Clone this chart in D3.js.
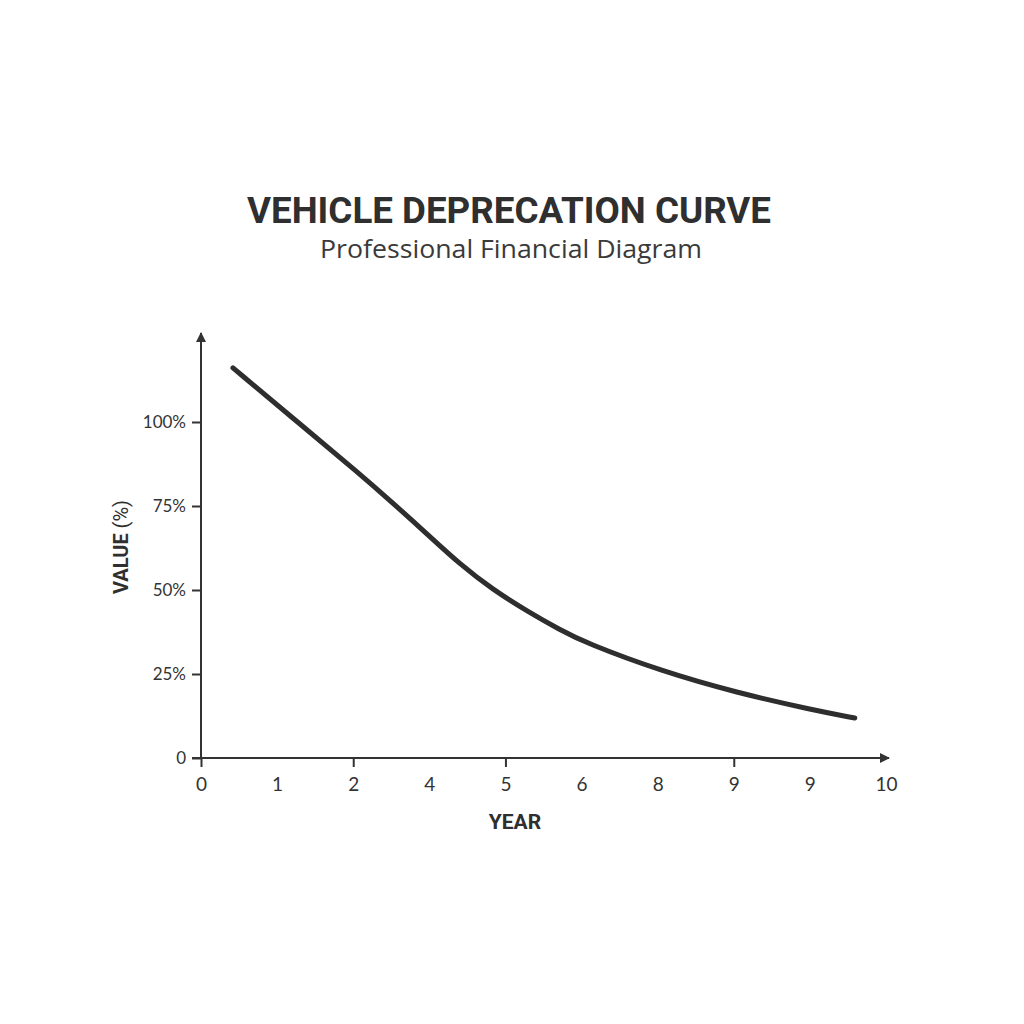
<!DOCTYPE html>
<html>
<head>
<meta charset="utf-8">
<script src="https://cdn.jsdelivr.net/npm/d3@7"></script>
<style>
  body { margin: 0; background: #fff; }
</style>
</head>
<body>
<div id="chart"></div>
<script>
// x tick labels as printed on the chart (one per slot)
var yearLabels = ["0", "1", "2", "4", "5", "6", "8", "9", "9", "10"];
// slots that carry a tick mark
var tickMarkSlots = [0, 2, 4, 7];
var valueTicks = [0, 25, 50, 75, 100];
// curve samples: slot position and value in %
var curveX = [0.42, 1.30, 2.09, 2.52, 2.97, 3.40, 3.84, 4.28, 4.72, 5.06, 6.04, 7.04, 8.04, 8.59];
var curveY = [116.1, 99.4, 84.5, 75.9, 66.7, 57.7, 50.0, 43.8, 38.1, 34.2, 25.9, 19.4, 14.3, 11.9];

var width = 1024, height = 1024;
var svg = d3.select("#chart").append("svg")
    .attr("width", width)
    .attr("height", height)
    .style("font-family", "'Open Sans', 'Noto Sans', sans-serif");

var x = d3.scaleLinear().domain([0, 9]).range([201, 886]);
var y = d3.scaleLinear().domain([0, 100]).range([758, 422]);

var axisColor = "#333";
var textColor = "#2f2f2f";

svg.append("defs").append("marker")
    .attr("id", "arrow")
    .attr("viewBox", "0 0 10 10")
    .attr("refX", 9).attr("refY", 5)
    .attr("markerWidth", 5).attr("markerHeight", 5)
    .attr("orient", "auto")
    .append("path")
    .attr("d", "M0,0 L10,5 L0,10 Z")
    .attr("fill", axisColor);

// title
svg.append("text")
    .attr("x", 509).attr("y", 223)
    .attr("text-anchor", "middle")
    .style("font-family", "Roboto, sans-serif")
    .style("font-weight", 700)
    .style("font-size", "37px")
    .attr("fill", textColor)
    .attr("textLength", 524)
    .attr("lengthAdjust", "spacingAndGlyphs")
    .text("VEHICLE DEPRECATION CURVE");

svg.append("text")
    .attr("x", 511).attr("y", 258)
    .attr("text-anchor", "middle")
    .style("font-size", "26px")
    .attr("fill", "#3a3a3a")
    .attr("textLength", 382)
    .attr("lengthAdjust", "spacingAndGlyphs")
    .text("Professional Financial Diagram");

// y axis
var yAxis = svg.append("g")
    .attr("transform", "translate(201,0)")
    .call(d3.axisLeft(y).tickValues(valueTicks).tickSize(9).tickPadding(6)
        .tickFormat(function(d){ return d === 0 ? "0" : d + "%"; }));
yAxis.select(".domain").remove();
yAxis.selectAll("line").attr("stroke", axisColor).attr("stroke-width", 2);
yAxis.selectAll("text")
    .attr("fill", "#333")
    .style("font-size", "17px")
    .style("font-family", "Lato, sans-serif");

// x axis
var xAxis = svg.append("g")
    .attr("transform", "translate(0,758)")
    .call(d3.axisBottom(x).tickValues(d3.range(yearLabels.length)).tickSize(9).tickPadding(11)
        .tickFormat(function(d){ return yearLabels[d]; }));
xAxis.select(".domain").remove();
xAxis.selectAll("line")
    .attr("stroke", axisColor).attr("stroke-width", 2)
    .attr("y2", function(d){ return tickMarkSlots.indexOf(d) >= 0 ? 9 : 0; });
xAxis.selectAll("text")
    .attr("fill", "#333")
    .style("font-size", "19px")
    .style("font-family", "Lato, sans-serif");

// axis lines with arrows
svg.append("line")
    .attr("x1", 201).attr("y1", 759).attr("x2", 201).attr("y2", 333)
    .attr("stroke", axisColor).attr("stroke-width", 2)
    .attr("marker-end", "url(#arrow)");
svg.append("line")
    .attr("x1", 192).attr("y1", 758).attr("x2", 889).attr("y2", 758)
    .attr("stroke", axisColor).attr("stroke-width", 2)
    .attr("marker-end", "url(#arrow)");

// axis titles
svg.append("text")
    .attr("x", 515).attr("y", 829)
    .attr("text-anchor", "middle")
    .attr("fill", textColor)
    .style("font-family", "Roboto, sans-serif")
    .style("font-weight", 700)
    .style("font-size", "21px")
    .text("YEAR");

var yTitle = svg.append("text")
    .attr("transform", "translate(128,547) rotate(-90)")
    .attr("text-anchor", "middle")
    .attr("fill", textColor)
    .style("font-family", "Roboto, sans-serif")
    .style("font-size", "20px");
yTitle.append("tspan").style("font-weight", 700).text("VALUE ");
yTitle.append("tspan").style("font-weight", 400).text("(%)");

// curve
var points = curveX.map(function(d, i){ return [d, curveY[i]]; });
var line = d3.line()
    .x(function(d){ return x(d[0]); })
    .y(function(d){ return y(d[1]); })
    .curve(d3.curveBasis);

svg.append("path")
    .datum(points)
    .attr("d", line)
    .attr("fill", "none")
    .attr("stroke", "#2e2e2e")
    .attr("stroke-width", 5)
    .attr("stroke-linecap", "round");
</script>
</body>
</html>
